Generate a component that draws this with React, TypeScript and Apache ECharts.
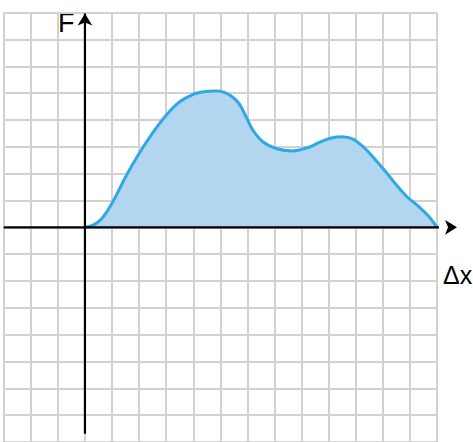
import React, { useEffect, useRef } from "react";
import * as echarts from "echarts";

// Displacement (grid units) and force values of the curve
const dxValues = [
  0, 0.3, 0.6, 1.0, 1.5, 2.0, 2.5, 3.0, 3.5, 4.0, 4.4, 4.8, 5.15, 5.45, 5.7,
  5.95, 6.21, 6.58, 7.08, 7.69, 8.31, 8.68, 9.1, 9.5, 9.9, 10.3, 10.7, 11.1,
  11.5, 11.9, 12.3, 12.7, 13.0,
];
const forceValues = [
  0, 0.08, 0.3, 0.9, 1.88, 2.75, 3.52, 4.18, 4.68, 4.96, 5.05, 5.08, 5.03,
  4.86, 4.6, 4.12, 3.61, 3.18, 2.93, 2.85, 3.0, 3.18, 3.33, 3.38, 3.29, 2.98,
  2.55, 2.08, 1.58, 1.13, 0.8, 0.4, 0.0,
];

// Extent of the square grid and of the drawn axes
const xRange = [-3, 13];
const yRange = [-8, 8];
const xAxisEnds = [-3, 13.74];
const yAxisEnds = [-7.69, 7.97];

const axisLabelF = "F";
const axisLabelDx = "Δx";

export default function App() {
  const ref = useRef<HTMLDivElement>(null);

  useEffect(() => {
    if (!ref.current) return;
    const chart = echarts.init(ref.current, null, { renderer: "svg" });
    const gridLine = { show: true, lineStyle: { color: "#d2d2d2", width: 2 } };
    const axisSeries = (points: number[][], rotate: number) => ({
      type: "line",
      data: [
        { value: points[0], symbol: "none" },
        { value: points[1], symbol: "arrow", symbolRotate: rotate },
      ],
      showSymbol: true,
      symbolSize: [11, 12],
      clip: false,
      silent: true,
      z: 5,
      itemStyle: { color: "#000" },
      lineStyle: { color: "#000", width: 2.2 },
    });
    chart.setOption({
      animation: false,
      backgroundColor: "#ffffff",
      grid: { left: 3.7, right: 36, top: 12.7, bottom: -4.3, containLabel: false },
      xAxis: {
        type: "value",
        min: xRange[0],
        max: xRange[1],
        interval: 1,
        axisLine: { show: false },
        axisTick: { show: false },
        axisLabel: { show: false },
        splitLine: gridLine,
      },
      yAxis: {
        type: "value",
        min: yRange[0],
        max: yRange[1],
        interval: 1,
        axisLine: { show: false },
        axisTick: { show: false },
        axisLabel: { show: false },
        splitLine: gridLine,
      },
      graphic: [
        {
          type: "text",
          left: 58,
          top: 9,
          style: {
            text: axisLabelF,
            fontSize: 27,
            fontFamily: "Liberation Sans, Arial, sans-serif",
            fill: "#000",
          },
        },
        {
          type: "text",
          left: 443,
          top: 262,
          style: {
            text: axisLabelDx,
            fontSize: 25,
            fontFamily: "Liberation Sans, Arial, sans-serif",
            fill: "#000",
          },
        },
      ],
      series: [
        {
          type: "line",
          data: dxValues.map((x, i) => [x, forceValues[i]]),
          smooth: 0.3,
          showSymbol: false,
          lineStyle: { color: "#2fa9e1", width: 3 },
          areaStyle: { color: "#b2d5f0", opacity: 1, origin: 0 },
          z: 3,
        },
        axisSeries(
          [
            [xAxisEnds[0], 0],
            [xAxisEnds[1], 0],
          ],
          -90
        ),
        axisSeries(
          [
            [0, yAxisEnds[0]],
            [0, yAxisEnds[1]],
          ],
          0
        ),
      ],
    });
    return () => chart.dispose();
  }, []);

  return (
    <div
      ref={ref}
      style={{ position: "fixed", left: 0, top: 0, width: 473, height: 442 }}
    />
  );
}
